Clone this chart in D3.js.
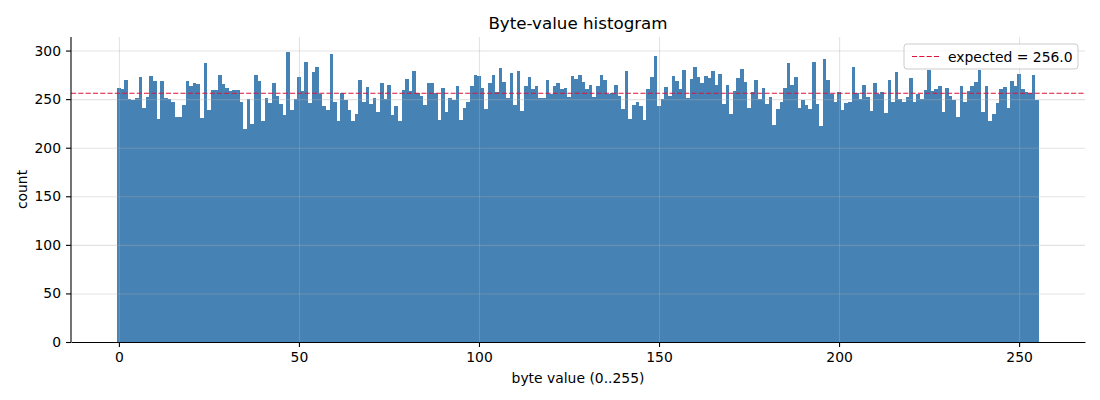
<!DOCTYPE html>
<html>
<head>
<meta charset="utf-8">
<script src="https://cdn.jsdelivr.net/npm/d3@7"></script>
<style>
    body { margin: 0; background: #fff; }
    #chart { width: 1100px; height: 400px; }
    text { font-family: "DejaVu Sans", sans-serif; fill: #000; }
    .axis path, .axis line { stroke: #000; stroke-width: 1.1; }
    .axis text { font-size: 13.9px; }
    .grid line { stroke: #b0b0b0; stroke-opacity: 0.35; stroke-width: 1.1; }
    .grid path { display: none; }
    .bar { shape-rendering: crispEdges; }
</style>
</head>
<body>
<div id="chart"></div>
<script>
// counts per byte value, index = byte (0..255)
const counts = [
    261, 260, 270, 250, 249, 251, 273, 241, 252, 274, 269, 230, 269, 251, 250, 247,
    232, 232, 244, 269, 263, 267, 266, 231, 287, 239, 259, 259, 275, 266, 261, 258,
    259, 259, 247, 219, 250, 224, 275, 269, 227, 251, 246, 267, 253, 245, 234, 299,
    239, 250, 273, 258, 288, 246, 278, 283, 255, 243, 239, 296, 247, 227, 256, 249,
    239, 227, 235, 270, 247, 262, 245, 251, 237, 267, 250, 265, 234, 243, 227, 259,
    271, 258, 279, 256, 253, 244, 267, 267, 256, 229, 261, 237, 251, 249, 264, 228,
    241, 247, 263, 275, 274, 261, 240, 267, 275, 257, 282, 268, 251, 277, 244, 279,
    238, 263, 273, 260, 264, 251, 251, 270, 255, 264, 267, 260, 261, 252, 274, 271,
    275, 268, 260, 265, 252, 263, 275, 270, 255, 256, 265, 253, 240, 279, 230, 244,
    247, 243, 228, 260, 273, 294, 243, 250, 262, 253, 274, 269, 260, 280, 251, 271,
    283, 273, 267, 274, 272, 279, 265, 276, 245, 265, 235, 258, 272, 281, 268, 241,
    257, 270, 250, 261, 245, 252, 223, 240, 247, 261, 287, 265, 273, 241, 249, 244,
    240, 288, 245, 222, 291, 270, 255, 247, 257, 239, 246, 247, 283, 256, 250, 265,
    252, 238, 267, 255, 257, 236, 270, 247, 278, 250, 247, 252, 272, 247, 255, 250,
    259, 280, 258, 260, 263, 237, 261, 253, 249, 232, 264, 247, 258, 264, 268, 280,
    237, 264, 227, 235, 246, 260, 262, 241, 269, 263, 276, 260, 257, 256, 275, 249
];

const expected = 256.0;
const xTicks = [0, 50, 100, 150, 200, 250];
const yTicks = [0, 50, 100, 150, 200, 250, 300];

class ByteHistogram {
    constructor(parentElement, data) {
        this.parentElement = parentElement;
        this.data = data;
        this.initVis();
    }

    initVis() {
        let vis = this;

        vis.margin = { top: 37, right: 15, bottom: 58, left: 71 };
        vis.width = 1100 - vis.margin.left - vis.margin.right;
        vis.height = 400 - vis.margin.top - vis.margin.bottom;

        vis.root = d3.select("#" + vis.parentElement).append("svg")
            .attr("width", 1100)
            .attr("height", 400);

        vis.svg = vis.root.append("g")
            .attr("transform", "translate(" + vis.margin.left + "," + vis.margin.top + ")");

        // one bin per byte, centred on the integer, 5% padding like matplotlib
        let lo = -0.5, hi = vis.data.length - 0.5;
        let pad = (hi - lo) * 0.05;
        vis.x = d3.scaleLinear()
            .domain([lo - pad, hi + pad])
            .range([0, vis.width]);

        vis.y = d3.scaleLinear()
            .domain([0, d3.max(vis.data) * 1.05])
            .range([vis.height, 0]);

        vis.updateVis();
    }

    updateVis() {
        let vis = this;

        // snap bin edges to whole pixels so neighbouring bars meet without seams
        let edge = v => Math.round(vis.x(v));

        vis.svg.selectAll(".bar")
            .data(vis.data)
            .enter().append("rect")
            .attr("class", "bar")
            .attr("x", (d, i) => edge(i - 0.5))
            .attr("y", d => vis.y(d))
            .attr("width", (d, i) => edge(i + 0.5) - edge(i - 0.5))
            .attr("height", d => vis.height - vis.y(d))
            .attr("fill", "#4682b4");

        // grid sits above bars (matplotlib zorder)
        vis.svg.append("g")
            .attr("class", "grid")
            .attr("transform", `translate(0,${vis.height})`)
            .call(d3.axisBottom(vis.x).tickValues(xTicks).tickSize(-vis.height).tickFormat(""));

        vis.svg.append("g")
            .attr("class", "grid")
            .call(d3.axisLeft(vis.y).tickValues(yTicks).tickSize(-vis.width).tickFormat(""));

        // expected line
        vis.svg.append("line")
            .attr("x1", 0)
            .attr("x2", vis.width)
            .attr("y1", vis.y(expected))
            .attr("y2", vis.y(expected))
            .attr("stroke", "#dc143c")
            .attr("stroke-width", 1.1)
            .attr("stroke-dasharray", "5.1,2.2");

        // axes, left and bottom spines only
        vis.svg.append("g")
            .attr("class", "x-axis axis")
            .attr("transform", `translate(0,${vis.height})`)
            .call(d3.axisBottom(vis.x).tickValues(xTicks).tickSize(5).tickPadding(5).tickSizeOuter(0));

        vis.svg.append("g")
            .attr("class", "y-axis axis")
            .call(d3.axisLeft(vis.y).tickValues(yTicks).tickSize(5).tickPadding(5).tickSizeOuter(0));

        vis.svg.select(".y-axis .domain").attr("d", `M0,${vis.height}V0`);

        // labels
        vis.root.append("text")
            .attr("x", vis.margin.left + vis.width / 2)
            .attr("y", 29)
            .attr("text-anchor", "middle")
            .style("font-size", "16.7px")
            .text("Byte-value histogram");

        vis.root.append("text")
            .attr("x", vis.margin.left + vis.width / 2)
            .attr("y", 383)
            .attr("text-anchor", "middle")
            .style("font-size", "13.9px")
            .text("byte value (0..255)");

        vis.root.append("text")
            .attr("transform", `translate(27,${vis.margin.top + vis.height / 2}) rotate(-90)`)
            .attr("text-anchor", "middle")
            .style("font-size", "13.9px")
            .text("count");

        // legend, upper right
        let legend = vis.svg.append("g")
            .attr("transform", `translate(${vis.width - 181},7)`);

        legend.append("rect")
            .attr("width", 174)
            .attr("height", 25)
            .attr("rx", 3)
            .attr("fill", "#fff")
            .attr("fill-opacity", 0.8)
            .attr("stroke", "#cccccc")
            .attr("stroke-width", 1);

        legend.append("line")
            .attr("x1", 8)
            .attr("x2", 36)
            .attr("y1", 12.5)
            .attr("y2", 12.5)
            .attr("stroke", "#dc143c")
            .attr("stroke-width", 1.1)
            .attr("stroke-dasharray", "5.1,2.2");

        legend.append("text")
            .attr("x", 44)
            .attr("y", 17.5)
            .style("font-size", "13.9px")
            .text("expected = " + expected.toFixed(1));
    }
}

new ByteHistogram("chart", counts);
</script>
</body>
</html>
